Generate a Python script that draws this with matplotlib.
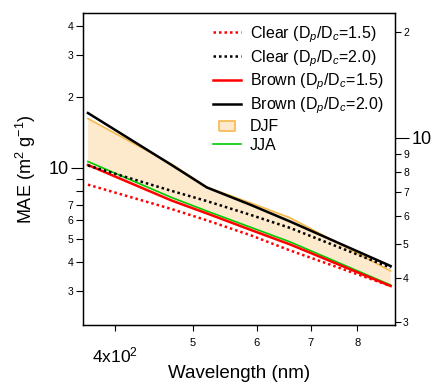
import matplotlib.pyplot as plt
from matplotlib.lines import Line2D
from matplotlib.path import Path
from matplotlib.ticker import FixedLocator, FuncFormatter

plt.rcParams['font.family'] = ['Liberation Sans', 'DejaVu Sans']
plt.rcParams['mathtext.fontset'] = 'custom'
plt.rcParams['mathtext.rm'] = 'Liberation Sans'
plt.rcParams['mathtext.it'] = 'Liberation Sans:italic'

# wavelengths (nm) and MAE values (m2/g)
wavelength = [370, 470, 520, 590, 660, 880]
clear_15 = [8.5, 6.7, 6.0, 5.18, 4.47, 3.16]
clear_20 = [10.25, 8.0, 7.24, 6.32, 5.57, 3.78]
brown_15 = [10.3, 7.28, 6.42, 5.46, 4.74, 3.16]
brown_20 = [17.1, 10.3, 8.27, 6.97, 5.93, 3.84]
djf_hi = [16.2, 10.4, 8.3, 7.1, 6.15, 3.66]
djf_lo = [10.5, 7.4, 6.5, 5.5, 4.8, 3.17]
jja = [10.65, 7.5, 6.57, 5.6, 4.86, 3.19]

fig = plt.figure(figsize=(4.35, 3.84), dpi=100)
ax = fig.add_axes([83 / 435, 1 - 325 / 384, 312 / 435, 312 / 384])

ax.fill_between(wavelength, djf_lo, djf_hi, facecolor='#fde9cc', edgecolor='none', zorder=1)
ax.plot(wavelength, djf_hi, color='#f7b84a', lw=1.2, zorder=2)
ax.plot(wavelength, jja, color='#00cc00', lw=1.2, zorder=3)
ax.plot(wavelength, brown_15, color='#ff0000', lw=1.8, zorder=4)
ax.plot(wavelength, brown_20, color='black', lw=1.8, zorder=4)
ax.plot(wavelength, clear_15, color='#ff0000', lw=1.8, ls=(0, (1, 1.2)), zorder=5)
ax.plot(wavelength, clear_20, color='black', lw=1.8, ls=(0, (1, 1.2)), zorder=5)

ax.set_xscale('log')
ax.set_yscale('log')
ax.set_xlim(364.8, 891)
ax.set_ylim(2.16, 45.4)

# y ticks (left)
ax.yaxis.set_major_locator(FixedLocator([10]))
ax.yaxis.set_major_formatter(FuncFormatter(lambda v, p: '10'))
ax.yaxis.set_minor_locator(FixedLocator([3, 4, 5, 6, 7, 8, 9, 20, 30, 40]))
ylab = {3: '3', 4: '4', 5: '5', 6: '6', 7: '7', 20: '2', 30: '3', 40: '4'}
ax.yaxis.set_minor_formatter(FuncFormatter(lambda v, p: ylab.get(int(round(v)), '')))

# x ticks
ax.xaxis.set_major_locator(FixedLocator([400]))
ax.xaxis.set_major_formatter(FuncFormatter(lambda v, p: '4x10$^2$'))
ax.xaxis.set_minor_locator(FixedLocator([500, 600, 700, 800]))
ax.xaxis.set_minor_formatter(FuncFormatter(lambda v, p: str(int(round(v / 100)))))

# tick lengths / pads in points (px * 0.72)
ax.tick_params(axis='y', which='major', length=8.6, width=0.8, labelsize=13, pad=2)
ax.tick_params(axis='y', which='minor', length=5, width=0.8, labelsize=7.5, pad=2)
ax.tick_params(axis='x', which='major', length=4.5, width=0.8, labelsize=12.5, pad=10)
ax.tick_params(axis='x', which='minor', length=4.5, width=0.8, labelsize=8, pad=5)
for s in ax.spines.values():
    s.set_linewidth(1)

# right axis
ax2 = ax.twinx()
ax2.set_yscale('log')
ax2.set_ylim(2.94, 22.6)
ax2.yaxis.set_major_locator(FixedLocator([10]))
ax2.yaxis.set_major_formatter(FuncFormatter(lambda v, p: '10'))
ax2.yaxis.set_minor_locator(FixedLocator([3, 4, 5, 6, 7, 8, 9, 20]))
ax2.yaxis.set_minor_formatter(FuncFormatter(lambda v, p: str(int(round(v)))[0]))
ax2.tick_params(axis='y', which='major', length=10, width=0.8, labelsize=13, pad=2)
ax2.tick_params(axis='y', which='minor', length=4.3, width=0.8, labelsize=7.5, pad=1.5)

ax.set_ylabel('MAE (m$^2$ g$^{-1}$)', fontsize=13)
ax.yaxis.set_label_coords(-0.145, 0.5)
ax.set_xlabel('Wavelength (nm)', fontsize=13.5)
ax.xaxis.set_label_coords(0.5, -0.128)

box = Path([(-1, -0.6), (1, -0.6), (1, 0.6), (-1, 0.6), (-1, -0.6)])
handles = [
    Line2D([], [], color='#ff0000', lw=1.8, ls=(0, (1, 1.2))),
    Line2D([], [], color='black', lw=1.8, ls=(0, (1, 1.2))),
    Line2D([], [], color='#ff0000', lw=1.8),
    Line2D([], [], color='black', lw=1.8),
    Line2D([], [], ls='none', marker=box, markersize=11, markerfacecolor='#fde9cc',
           markeredgecolor='#f7b84a', markeredgewidth=1.2),
    Line2D([], [], color='#00cc00', lw=1.2),
]
labels = ['Clear (D$_p$/D$_c$=1.5)', 'Clear (D$_p$/D$_c$=2.0)',
          'Brown (D$_p$/D$_c$=1.5)', 'Brown (D$_p$/D$_c$=2.0)', 'DJF', 'JJA']
ax2.legend(handles, labels, loc='upper right', bbox_to_anchor=(1.0, 1.0), frameon=False,
           fontsize=11.5, handlelength=1.8, handletextpad=0.55, labelspacing=0.2,
           borderaxespad=0.3)

fig.savefig('out.png', dpi=100)
